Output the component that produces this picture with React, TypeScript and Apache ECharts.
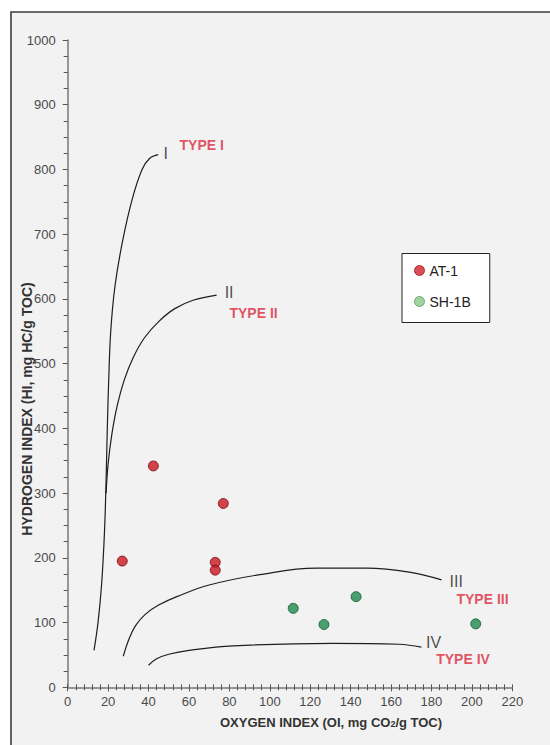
import React, { useEffect, useRef } from "react";
import * as echarts from "echarts";

// Oxygen index (x) vs Hydrogen index (y)
const xMin = 0;
const xMax = 220;
const xStep = 20;
const yMin = 0;
const yMax = 1000;
const yStep = 100;

const at1 = [
  [27, 195],
  [42.4, 342],
  [73, 193],
  [73, 181],
  [77, 284],
];
const sh1b = [
  [111.6, 122],
  [126.8, 97],
  [142.7, 140],
  [201.9, 98],
];

const typeI = [
  [13, 57], [15, 100], [16.8, 160], [18.2, 240], [19, 320], [19.6, 400],
  [20.3, 475], [21.3, 550], [23.4, 620], [27.2, 690], [32, 755], [36.8, 800],
  [40.5, 817], [44.8, 823],
];
const typeII = [
  [19, 300], [20, 345], [21.8, 390], [24.5, 435], [28, 475], [32.5, 510],
  [38, 540], [45, 565], [53, 585], [62, 598], [73.7, 606],
];
const typeIII = [
  [27.5, 48], [30, 72], [33.5, 95], [38.5, 113], [45, 127], [54, 140],
  [70, 158], [95, 174], [123, 184], [148, 184], [169, 178], [185, 166],
];
const typeIV = [
  [40, 34], [44, 44], [50, 51], [60, 57], [82, 64], [131, 68], [164, 66.5], [175, 62],
];

const romanLabels = [
  { name: "I", value: [47.6, 823.6] },
  { name: "II", value: [77.9, 609.6] },
  { name: "III", value: [189.2, 163] },
  { name: "IV", value: [177.6, 68.4] },
];
const typeLabels = [
  { name: "TYPE I", value: [55.6, 837] },
  { name: "TYPE II", value: [80.3, 578] },
  { name: "TYPE III", value: [192.6, 135] },
  { name: "TYPE IV", value: [182.6, 43.7] },
];

const FONT = "'Liberation Sans', Arial, sans-serif";

export default function App() {
  const ref = useRef<HTMLDivElement>(null);

  useEffect(() => {
    document.body.style.margin = "0";
    if (!ref.current) return;
    const chart = echarts.init(ref.current, null, { renderer: "svg" });

    const curve = (name: string, data: number[][]) => ({
      name,
      type: "line",
      data,
      smooth: 0.4,
      symbol: "none",
      silent: true,
      lineStyle: { color: "#1e1e1e", width: 1.2 },
      z: 3,
    });

    const gridTop = 40;
    const gridBottom = 57.7;
    const gridH = 745 - gridTop - gridBottom;

    chart.setOption({
      animation: false,
      backgroundColor: "#ffffff",
      textStyle: { fontFamily: FONT },
      grid: { left: 67.7, right: 37.7, top: gridTop, bottom: gridBottom, containLabel: false },
      legend: {
        data: [
          { name: "AT-1", itemStyle: { color: "#d21f2b", borderColor: "#a0141c", borderWidth: 1 } },
          { name: "SH-1B", itemStyle: { color: "#86c986", borderColor: "#5a9a5a", borderWidth: 1 } },
        ],
        orient: "vertical",
        left: 402,
        top: 253.5,
        icon: "circle",
        itemWidth: 10,
        itemHeight: 10,
        itemGap: 17,
        padding: [10, 19, 14, 12],
        backgroundColor: "#ffffff",
        borderColor: "#222",
        borderWidth: 1,
        borderRadius: 0,
        textStyle: { fontSize: 14, color: "#222", fontFamily: FONT },
      },
      xAxis: [
        {
          type: "value",
          min: xMin,
          max: xMax,
          interval: xStep,
          position: "bottom",
          axisLine: { show: true, onZero: false, lineStyle: { color: "#777", width: 1.5 } },
          axisTick: { show: true, inside: false, length: 4, lineStyle: { color: "#555" } },
          minorTick: { show: true, splitNumber: 5, length: 3, lineStyle: { color: "#555" } },
          axisLabel: { color: "#4a4a4a", fontSize: 13, margin: 8, fontFamily: FONT },
          splitLine: { show: false },
        },
        {
          type: "value",
          min: xMin,
          max: xMax,
          interval: xStep,
          position: "top",
          offset: -gridH,
          axisLine: { show: false },
          axisTick: { show: true, inside: false, length: 3, lineStyle: { color: "#555" } },
          minorTick: { show: true, splitNumber: 5, length: 3, lineStyle: { color: "#555" } },
          axisLabel: { show: false },
          splitLine: { show: false },
        },
      ],
      yAxis: {
        type: "value",
        min: yMin,
        max: yMax,
        interval: yStep,
        axisLine: { show: true, onZero: false, lineStyle: { color: "#777", width: 1.5 } },
        axisTick: { show: true, inside: false, length: 5, lineStyle: { color: "#555" } },
        minorTick: { show: true, splitNumber: 4, length: 4, lineStyle: { color: "#555" } },
        axisLabel: {
          color: "#4a4a4a",
          fontSize: 13,
          margin: 12,
          fontFamily: FONT,
          formatter: (v: number) => String(v),
        },
        splitLine: { show: false },
      },
      graphic: [
        {
          type: "rect",
          z: -10,
          silent: true,
          shape: { x: 11, y: 12, width: 600, height: 800 },
          style: { fill: "#f2f2f2", stroke: "#3c3c3c", lineWidth: 1.6 },
        },
        {
          type: "text",
          x: 331,
          y: 722,
          z: 10,
          style: {
            text: "OXYGEN INDEX (OI, mg CO{sub|2}/g TOC)",
            fontFamily: FONT,
            fontSize: 13,
            fontWeight: "bold",
            fill: "#333",
            align: "center",
            verticalAlign: "middle",
            rich: {
              sub: { fontSize: 9, fontWeight: "bold", fontFamily: FONT, fill: "#333", verticalAlign: "bottom", lineHeight: 10 },
            },
          },
        },
        {
          type: "text",
          x: 27,
          y: 409,
          rotation: Math.PI / 2,
          z: 10,
          style: {
            text: "HYDROGEN INDEX (HI, mg HC/g TOC)",
            fontFamily: FONT,
            fontSize: 14,
            fontWeight: "bold",
            fill: "#333",
            align: "center",
            verticalAlign: "middle",
          },
        },
      ],
      series: [
        curve("Type I curve", typeI),
        curve("Type II curve", typeII),
        curve("Type III curve", typeIII),
        curve("Type IV curve", typeIV),
        {
          name: "AT-1",
          type: "scatter",
          data: at1,
          symbolSize: 10,
          itemStyle: { color: "#c8161e", borderColor: "#7a0a10", borderWidth: 1 },
          z: 5,
        },
        {
          name: "SH-1B",
          type: "scatter",
          data: sh1b,
          symbolSize: 10,
          itemStyle: { color: "#1f8a4c", borderColor: "#0e5a2e", borderWidth: 1 },
          z: 5,
        },
        {
          name: "roman",
          type: "scatter",
          data: romanLabels,
          symbolSize: 1,
          silent: true,
          itemStyle: { color: "rgba(0,0,0,0)" },
          label: {
            show: true,
            position: [0, 0],
            align: "left",
            verticalAlign: "middle",
            formatter: "{b}",
            fontSize: 16,
            color: "#222",
            fontFamily: FONT,
          },
          z: 6,
        },
        {
          name: "types",
          type: "scatter",
          data: typeLabels,
          symbolSize: 1,
          silent: true,
          itemStyle: { color: "rgba(0,0,0,0)" },
          label: {
            show: true,
            position: [0, 0],
            align: "left",
            verticalAlign: "middle",
            formatter: "{b}",
            fontSize: 14,
            fontWeight: "bold",
            color: "#dc283c",
            fontFamily: FONT,
          },
          z: 6,
        },
      ],
    });

    return () => {
      chart.dispose();
    };
  }, []);

  return <div ref={ref} style={{ width: 550, height: 745 }} />;
}
